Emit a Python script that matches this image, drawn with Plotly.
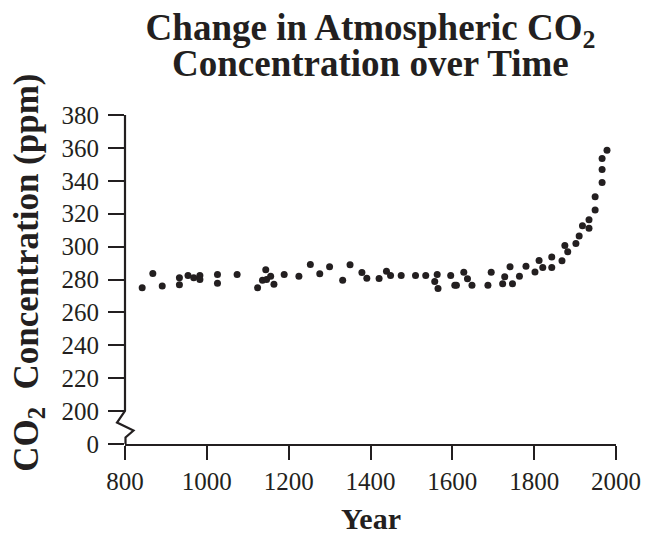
import plotly.graph_objects as go

years = [842, 868, 891, 933, 933, 954, 968, 983, 983, 1026, 1026, 1074, 1124, 1136,
         1144, 1146, 1156, 1164, 1189, 1225, 1253, 1276, 1300, 1332, 1350, 1379, 1391,
         1421, 1439, 1449, 1475, 1510, 1535, 1563, 1557, 1565, 1596, 1606, 1610, 1628,
         1637, 1648, 1687, 1695, 1723, 1728, 1741, 1747, 1764, 1780, 1802, 1812, 1821,
         1843, 1843, 1868, 1875, 1882, 1902, 1910, 1918, 1934, 1934, 1949, 1949, 1966,
         1966, 1966, 1978]
co2_ppm = [275, 283.7, 276, 281, 276.8, 282.4, 281, 282.4, 280, 283, 277.7, 283, 275, 279.6,
           286, 280, 282, 277.1, 283, 282, 289.1, 283.5, 287.7, 279.6, 289, 284.3, 280.8,
           280.6, 285, 282.4, 282.4, 282.4, 282.4, 283, 278.8, 274.5, 282.4, 276.5, 276.5, 284.4,
           280.4, 276.5, 276.5, 284.4, 277.4, 281.6, 287.7, 277.4, 282, 288.1, 284.6, 291.6, 287.3,
           293.7, 287.3, 291.4, 300.7, 296.9, 301.9, 306.4, 312.7, 316.3, 311.2, 322.2, 330.3, 339,
           346.8, 353.6, 358.5]

x_ticks = [800, 1000, 1200, 1400, 1600, 1800, 2000]
# axis break: the "0" tick sits one step below 200
y_tickvals = [180, 200, 220, 240, 260, 280, 300, 320, 340, 360, 380]
y_ticktext = ["0", "200", "220", "240", "260", "280", "300", "320", "340", "360", "380"]

title_line1 = "<b>Change in Atmospheric CO<sub>2</sub></b>"
title_line2 = "<b>Concentration over Time</b>"
x_title = "<b>Year</b>"
y_title = "<b>CO<sub>2</sub>  Concentration (ppm)</b>"

INK = "#231f20"
FONT = "Liberation Serif"

FIG_W, FIG_H = 641, 528
ML, MT = 117, 107
PW, PH = 491.5, 329.0

fig = go.Figure()
fig.add_trace(go.Scatter(
    x=years, y=co2_ppm, mode="markers",
    marker=dict(color=INK, size=7, line=dict(width=0)),
    showlegend=False, hoverinfo="x+y", cliponaxis=False,
))

# broken y-axis line drawn as a path (paper coords)
def py(pix_from_bottom):
    return pix_from_bottom / PH
def px(pix_from_left):
    return pix_from_left / PW

path = (f"M {px(0)} {py(PH)} L {px(0)} {py(33)} "
        f"L {px(-8)} {py(21.5)} L {px(8.5)} {py(13.5)} "
        f"L {px(0.5)} {py(6.5)} L {px(0.5)} {py(0)}")
fig.add_shape(type="path", path=path, xref="paper", yref="paper",
              line=dict(color=INK, width=2.2), layer="above")

# second title line
fig.add_annotation(
    text=title_line2, xref="paper", yref="paper", x=0.5, y=1 + 51 / PH,
    xanchor="center", yanchor="middle", showarrow=False,
    font=dict(family=FONT, size=37, color=INK),
)
# x axis title
fig.add_annotation(
    text=x_title, xref="paper", yref="paper", x=0.5, y=-74 / PH,
    xanchor="center", yanchor="middle", showarrow=False,
    font=dict(family=FONT, size=30, color=INK),
)
# y axis title
fig.add_annotation(
    text=y_title, xref="paper", yref="paper", x=-97 / PW, y=0.521,
    xanchor="center", yanchor="middle", showarrow=False, textangle=-90,
    font=dict(family=FONT, size=35, color=INK),
)

fig.update_layout(
    width=FIG_W, height=FIG_H,
    margin=dict(l=ML, r=FIG_W - ML - PW, t=MT, b=FIG_H - MT - PH, pad=0),
    paper_bgcolor="white", plot_bgcolor="white",
    font=dict(family=FONT, color=INK, size=25),
    title=dict(
        text=title_line1,
        x=0.5, xref="paper", xanchor="center",
        y=1 - 19 / FIG_H, yref="container", yanchor="middle",
        font=dict(family=FONT, size=37, color=INK),
    ),
    xaxis=dict(
        range=[800, 2000], tickvals=x_ticks, showgrid=False, zeroline=False,
        showline=True, linecolor=INK, linewidth=2.2,
        ticks="outside", ticklen=14, tickwidth=2.2, tickcolor=INK,
        tickfont=dict(family=FONT, size=25, color=INK),
        automargin=False,
    ),
    yaxis=dict(
        range=[180, 380], tickvals=y_tickvals, ticktext=y_ticktext,
        showgrid=False, zeroline=False, showline=False,
        ticks="outside", ticklen=16, tickwidth=2.2, tickcolor=INK,
        tickfont=dict(family=FONT, size=25, color=INK),
        ticklabelstandoff=4, automargin=False,
    ),
)

fig.write_html("out.html")
